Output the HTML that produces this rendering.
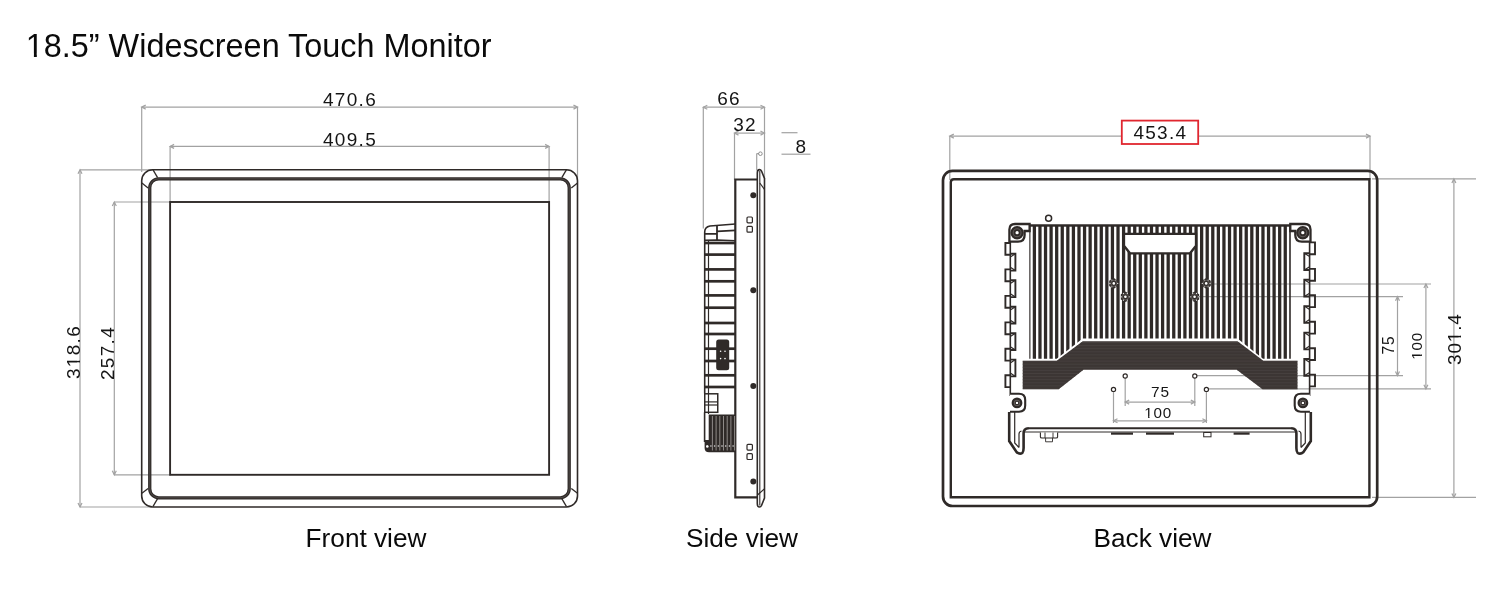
<!DOCTYPE html>
<html><head><meta charset="utf-8"><title>18.5" Widescreen Touch Monitor</title>
<style>
html,body{margin:0;padding:0;background:#fff;width:1500px;height:600px;overflow:hidden;}
svg{position:absolute;left:0;top:0;display:block;will-change:transform;}
text{font-family:"Liberation Sans",sans-serif;}
</style></head>
<body>
<svg width="1500" height="600" viewBox="0 0 1500 600">
<rect width="1500" height="600" fill="#fff"/>
<g fill="none" stroke="#a2a2a2" stroke-width="1.2">
<line x1="141.7" y1="107.1" x2="577.5" y2="107.1"/>
<path d="M145.7,105.1 L141.7,107.1 L145.7,109.1" />
<path d="M573.5,105.1 L577.5,107.1 L573.5,109.1" />
<line x1="141.7" y1="107.1" x2="141.7" y2="172"/>
<line x1="577.5" y1="107.1" x2="577.5" y2="180"/>
<line x1="170.1" y1="146.4" x2="549.1" y2="146.4"/>
<path d="M174.1,144.4 L170.1,146.4 L174.1,148.4" />
<path d="M545.1,144.4 L549.1,146.4 L545.1,148.4" />
<line x1="170.1" y1="146.4" x2="170.1" y2="203"/>
<line x1="549.1" y1="146.4" x2="549.1" y2="203"/>
<line x1="80" y1="169.8" x2="80" y2="507"/>
<path d="M78,173.8 L80,169.8 L82,173.8" />
<path d="M78,503 L80,507 L82,503" />
<line x1="80" y1="169.8" x2="152" y2="169.8"/>
<line x1="80" y1="507" x2="152" y2="507"/>
<line x1="114.3" y1="202" x2="114.3" y2="474.8"/>
<path d="M112.3,206 L114.3,202 L116.3,206" />
<path d="M112.3,470.8 L114.3,474.8 L116.3,470.8" />
<line x1="114.3" y1="202" x2="171" y2="202"/>
<line x1="114.3" y1="474.8" x2="171" y2="474.8"/>
<line x1="703.3" y1="107.2" x2="764.5" y2="107.2"/>
<path d="M707.3,105.2 L703.3,107.2 L707.3,109.2" />
<path d="M760.5,105.2 L764.5,107.2 L760.5,109.2" />
<line x1="703.3" y1="107.2" x2="703.3" y2="228.5"/>
<line x1="764.5" y1="107.3" x2="764.5" y2="179"/>
<line x1="734.5" y1="133.1" x2="764.5" y2="133.1"/>
<path d="M738.5,131.1 L734.5,133.1 L738.5,135.1" />
<path d="M760.5,131.1 L764.5,133.1 L760.5,135.1" />
<line x1="734.5" y1="133.2" x2="734.5" y2="180"/>
<line x1="781.5" y1="132.7" x2="797.5" y2="132.7"/>
<line x1="781.5" y1="154.2" x2="810.5" y2="154.2"/>
<line x1="756.7" y1="153.6" x2="756.7" y2="170.5"/>
<line x1="756.7" y1="153.6" x2="759" y2="153.6"/>
<circle cx="760.4" cy="153.7" r="1.8" stroke="#8c8c8c" stroke-width="1"/>
<line x1="949.8" y1="136.1" x2="1370" y2="136.1"/>
<path d="M953.8,134.1 L949.8,136.1 L953.8,138.1" />
<path d="M1366,134.1 L1370,136.1 L1366,138.1" />
<line x1="949.8" y1="136.1" x2="949.8" y2="180"/>
<line x1="1370" y1="136.1" x2="1370" y2="180"/>
<line x1="1453.9" y1="178.9" x2="1453.9" y2="497.4"/>
<path d="M1451.9,182.9 L1453.9,178.9 L1455.9,182.9" />
<path d="M1451.9,493.4 L1453.9,497.4 L1455.9,493.4" />
<line x1="1372" y1="178.9" x2="1476" y2="178.9"/>
<line x1="1372" y1="497.4" x2="1476" y2="497.4"/>
<line x1="1425.9" y1="284.0" x2="1425.9" y2="388.8"/>
<path d="M1423.9,288.0 L1425.9,284.0 L1427.9,288.0" />
<path d="M1423.9,384.8 L1425.9,388.8 L1427.9,384.8" />
<line x1="1209" y1="284.0" x2="1431" y2="284.0"/>
<line x1="1209" y1="388.8" x2="1431" y2="388.8"/>
<line x1="1397.5" y1="296.7" x2="1397.5" y2="375.6"/>
<path d="M1395.5,300.7 L1397.5,296.7 L1399.5,300.7" />
<path d="M1395.5,371.6 L1397.5,375.6 L1399.5,371.6" />
<line x1="1197" y1="296.7" x2="1403" y2="296.7"/>
<line x1="1197" y1="375.6" x2="1403" y2="375.6"/>
<line x1="1125.2" y1="402.1" x2="1194.8" y2="402.1"/>
<path d="M1129.2,400.1 L1125.2,402.1 L1129.2,404.1" />
<path d="M1190.8,400.1 L1194.8,402.1 L1190.8,404.1" />
<line x1="1125.2" y1="378" x2="1125.2" y2="406"/>
<line x1="1194.8" y1="378" x2="1194.8" y2="406"/>
<line x1="1113.5" y1="420.8" x2="1206.4" y2="420.8"/>
<path d="M1117.5,418.8 L1113.5,420.8 L1117.5,422.8" />
<path d="M1202.4,418.8 L1206.4,420.8 L1202.4,422.8" />
<line x1="1113.5" y1="391" x2="1113.5" y2="423"/>
<line x1="1206.4" y1="391" x2="1206.4" y2="423"/>
</g>
<g fill="none" stroke="#2f2a28">
<rect x="141.7" y="169.8" width="435.8" height="337.2" rx="11" stroke-width="1.6"/>
<rect x="149.75" y="178.8" width="419.45" height="319" rx="9" stroke-width="3.3"/>
<rect x="149.75" y="178.8" width="419.45" height="319" rx="9" stroke-width="0.7" stroke="#5d5755"/>
<rect x="170.1" y="202" width="379" height="272.8" stroke-width="1.9"/>
<line x1="152.9" y1="169.7" x2="157.6" y2="177.6" stroke-width="1.3"/>
<line x1="141.9" y1="183.1" x2="148.1" y2="187.9" stroke-width="1.3"/>
<line x1="566.5" y1="169.7" x2="561.8" y2="177.6" stroke-width="1.3"/>
<line x1="577.5" y1="183.1" x2="571.3" y2="187.9" stroke-width="1.3"/>
<line x1="152.9" y1="506.6" x2="157.6" y2="498.7" stroke-width="1.3"/>
<line x1="141.9" y1="493.2" x2="148.1" y2="488.4" stroke-width="1.3"/>
<line x1="566.5" y1="506.6" x2="561.8" y2="498.7" stroke-width="1.3"/>
<line x1="577.5" y1="493.2" x2="571.3" y2="488.4" stroke-width="1.3"/>
</g>
<g fill="none" stroke="#2f2a28" stroke-width="1.5">
<path d="M757.3,500 L757.3,173 Q757.3,169.6 759.5,169.6 Q760.8,169.6 761.5,171 L764.5,178.5 L764.5,498 L761.5,505.5 Q760.8,507 759.5,507 Q757.3,507 757.3,503.5 Z" stroke-width="1.6"/>
<line x1="759.8" y1="171" x2="759.8" y2="505.5" stroke-width="1.1"/>
<line x1="759.8" y1="183" x2="764.5" y2="189.5" stroke-width="1.2"/>
<line x1="764.3" y1="489" x2="757.5" y2="495" stroke-width="1.1"/>
<path d="M757,179.5 L735.3,179.5 L735.3,497.3 L757,497.3" stroke-width="2.2"/>
<circle cx="753.3" cy="195.3" r="3" fill="#2f2a28" stroke="none"/>
<circle cx="753.3" cy="290.3" r="3" fill="#2f2a28" stroke="none"/>
<circle cx="753.3" cy="386" r="3" fill="#2f2a28" stroke="none"/>
<circle cx="753.3" cy="481.5" r="3" fill="#2f2a28" stroke="none"/>
<rect x="747" y="217" width="5.4" height="5.8" rx="1" stroke-width="1.2"/>
<rect x="747" y="226.4" width="5.4" height="5.8" rx="1" stroke-width="1.2"/>
<rect x="747" y="444.3" width="5.4" height="5.8" rx="1" stroke-width="1.2"/>
<rect x="747" y="453.7" width="5.4" height="5.8" rx="1" stroke-width="1.2"/>
<path d="M735.3,224 L710,226 Q704.7,227 704.7,232 L704.7,393.5" stroke-width="1.6"/>
<line x1="708.5" y1="240" x2="708.5" y2="414" stroke-width="1.2"/>
<path d="M717,225.8 L717,240.5 M704.5,233.8 L717,233.8 M717,231.3 L735.3,230.4" stroke-width="1.8"/>
<path d="M704.5,240.2 L717,240 L735.3,240.8" stroke-width="1.6"/>
<line x1="704.7" y1="243" x2="735.3" y2="243" stroke-width="2.7"/>
<line x1="704.7" y1="254.6" x2="735.3" y2="254.6" stroke-width="2.7"/>
<line x1="704.7" y1="269.4" x2="735.3" y2="269.4" stroke-width="2.7"/>
<line x1="704.7" y1="281.3" x2="735.3" y2="281.3" stroke-width="2.7"/>
<line x1="704.7" y1="295.4" x2="735.3" y2="295.4" stroke-width="2.7"/>
<line x1="704.7" y1="307.7" x2="735.3" y2="307.7" stroke-width="2.7"/>
<line x1="704.7" y1="323" x2="735.3" y2="323" stroke-width="2.7"/>
<line x1="704.7" y1="334" x2="735.3" y2="334" stroke-width="2.7"/>
<line x1="704.7" y1="348.7" x2="735.3" y2="348.7" stroke-width="2.7"/>
<line x1="704.7" y1="361" x2="735.3" y2="361" stroke-width="2.7"/>
<line x1="704.7" y1="375.3" x2="735.3" y2="375.3" stroke-width="2.7"/>
<line x1="704.7" y1="387" x2="735.3" y2="387" stroke-width="2.7"/>
<rect x="716.2" y="339.4" width="13" height="30.8" rx="2.5" fill="#2f2a28" stroke="none"/>
<circle cx="720.6" cy="351.3" r="0.8" fill="#fff" stroke="none"/>
<circle cx="725" cy="351.3" r="0.8" fill="#fff" stroke="none"/>
<circle cx="720.6" cy="358.6" r="0.8" fill="#fff" stroke="none"/>
<circle cx="725" cy="358.6" r="0.8" fill="#fff" stroke="none"/>
<rect x="704.75" y="393.8" width="13" height="18.5" stroke-width="1.5"/>
<line x1="704.75" y1="401.9" x2="717.75" y2="401.9" stroke-width="1.2"/>
<line x1="704.75" y1="405" x2="717.75" y2="405" stroke-width="1.2"/>
<path d="M708.7,414.6 L735.3,414.6 L735.3,452.2 L709,452.2 Q704.6,452.2 704.6,448 L704.6,440 L708.7,440 Z" fill="#2f2a28" stroke="none"/>
<line x1="712.40" y1="416" x2="712.40" y2="450.5" stroke="#9a9593" stroke-width="0.9"/>
<line x1="716.10" y1="416" x2="716.10" y2="450.5" stroke="#9a9593" stroke-width="0.9"/>
<line x1="719.80" y1="416" x2="719.80" y2="450.5" stroke="#9a9593" stroke-width="0.9"/>
<line x1="723.50" y1="416" x2="723.50" y2="450.5" stroke="#9a9593" stroke-width="0.9"/>
<line x1="727.20" y1="416" x2="727.20" y2="450.5" stroke="#9a9593" stroke-width="0.9"/>
<line x1="730.90" y1="416" x2="730.90" y2="450.5" stroke="#9a9593" stroke-width="0.9"/>
<line x1="734.60" y1="416" x2="734.60" y2="450.5" stroke="#9a9593" stroke-width="0.9"/>
<circle cx="707.20" cy="446" r="0.8" fill="#ddd" stroke="none"/>
<circle cx="710.90" cy="446" r="0.8" fill="#ddd" stroke="none"/>
<circle cx="714.60" cy="446" r="0.8" fill="#ddd" stroke="none"/>
<circle cx="718.30" cy="446" r="0.8" fill="#ddd" stroke="none"/>
<circle cx="722.00" cy="446" r="0.8" fill="#ddd" stroke="none"/>
<circle cx="725.70" cy="446" r="0.8" fill="#ddd" stroke="none"/>
<circle cx="729.40" cy="446" r="0.8" fill="#ddd" stroke="none"/>
<circle cx="733.10" cy="446" r="0.8" fill="#ddd" stroke="none"/>
<circle cx="707.3" cy="446.5" r="1.3" fill="#fff" stroke="none"/>
<line x1="704.6" y1="412.3" x2="704.6" y2="442" stroke-width="1.6"/>
</g>
<g fill="none" stroke="#2f2a28">
<rect x="943" y="170.8" width="434.2" height="335.2" rx="9.5" stroke-width="2.7"/>
<path d="M950.8,497.3 L950.8,182.3 Q950.8,179.2 953.9,179.2 L1369.4,179.2 L1369.4,497.3 Z" stroke-width="2.4"/>
<circle cx="1048.6" cy="218.3" r="3" stroke-width="1.5"/>
</g>
<defs><clipPath id="finclip"><path d="M1029.3,225 L1290.8,225 L1290.8,358.8 L1263,358.8 L1237.5,338.6 L1082.7,338.6 L1056.7,358.8 L1029.3,358.8 Z"/></clipPath>
<clipPath id="bandclip"><path d="M1022.7,360.7 L1056.7,360.7 L1082.7,341.2 L1237.5,341.2 L1263.3,360.7 L1297.5,360.7 L1297.5,389.3 L1262.5,389.3 L1236.7,369.8 L1083.5,369.8 L1058.7,389.3 L1022.7,389.3 Z"/></clipPath></defs>
<g clip-path="url(#finclip)" fill="#2f2a28">
<rect x="1027.17" y="224" width="3.27" height="140"/>
<rect x="1032.75" y="224" width="3.27" height="140"/>
<rect x="1038.33" y="224" width="3.27" height="140"/>
<rect x="1043.90" y="224" width="3.27" height="140"/>
<rect x="1049.47" y="224" width="3.27" height="140"/>
<rect x="1055.05" y="224" width="3.27" height="140"/>
<rect x="1060.62" y="224" width="3.27" height="140"/>
<rect x="1066.20" y="224" width="3.27" height="140"/>
<rect x="1071.78" y="224" width="3.27" height="140"/>
<rect x="1077.35" y="224" width="3.27" height="140"/>
<rect x="1082.92" y="224" width="3.27" height="140"/>
<rect x="1088.50" y="224" width="3.27" height="140"/>
<rect x="1094.08" y="224" width="3.27" height="140"/>
<rect x="1099.65" y="224" width="3.27" height="140"/>
<rect x="1105.22" y="224" width="3.27" height="140"/>
<rect x="1110.80" y="224" width="3.27" height="140"/>
<rect x="1116.38" y="224" width="3.27" height="140"/>
<rect x="1121.95" y="224" width="3.27" height="140"/>
<rect x="1127.53" y="224" width="3.27" height="140"/>
<rect x="1133.10" y="224" width="3.27" height="140"/>
<rect x="1138.67" y="224" width="3.27" height="140"/>
<rect x="1144.25" y="224" width="3.27" height="140"/>
<rect x="1149.83" y="224" width="3.27" height="140"/>
<rect x="1155.40" y="224" width="3.27" height="140"/>
<rect x="1160.97" y="224" width="3.27" height="140"/>
<rect x="1166.55" y="224" width="3.27" height="140"/>
<rect x="1172.12" y="224" width="3.27" height="140"/>
<rect x="1177.70" y="224" width="3.27" height="140"/>
<rect x="1183.28" y="224" width="3.27" height="140"/>
<rect x="1188.85" y="224" width="3.27" height="140"/>
<rect x="1194.42" y="224" width="3.27" height="140"/>
<rect x="1200.00" y="224" width="3.27" height="140"/>
<rect x="1205.58" y="224" width="3.27" height="140"/>
<rect x="1211.15" y="224" width="3.27" height="140"/>
<rect x="1216.72" y="224" width="3.27" height="140"/>
<rect x="1222.30" y="224" width="3.27" height="140"/>
<rect x="1227.88" y="224" width="3.27" height="140"/>
<rect x="1233.45" y="224" width="3.27" height="140"/>
<rect x="1239.03" y="224" width="3.27" height="140"/>
<rect x="1244.60" y="224" width="3.27" height="140"/>
<rect x="1250.17" y="224" width="3.27" height="140"/>
<rect x="1255.75" y="224" width="3.27" height="140"/>
<rect x="1261.33" y="224" width="3.27" height="140"/>
<rect x="1266.90" y="224" width="3.27" height="140"/>
<rect x="1272.47" y="224" width="3.27" height="140"/>
<rect x="1278.05" y="224" width="3.27" height="140"/>
<rect x="1283.62" y="224" width="3.27" height="140"/>
<rect x="1289.20" y="224" width="3.27" height="140"/>
<rect x="1029.3" y="224" width="261.5" height="2.6"/>
</g>
<line x1="1012" y1="225.2" x2="1308" y2="225.2" stroke="#2f2a28" stroke-width="2"/>
<g clip-path="url(#bandclip)"><rect x="1020" y="338" width="280" height="55" fill="#3c3634"/>
<line x1="1020" y1="342.5" x2="1300" y2="342.5" stroke="#4b4543" stroke-width="0.7"/>
<line x1="1020" y1="345.6" x2="1300" y2="345.6" stroke="#4b4543" stroke-width="0.7"/>
<line x1="1020" y1="348.7" x2="1300" y2="348.7" stroke="#4b4543" stroke-width="0.7"/>
<line x1="1020" y1="351.8" x2="1300" y2="351.8" stroke="#4b4543" stroke-width="0.7"/>
<line x1="1020" y1="354.9" x2="1300" y2="354.9" stroke="#4b4543" stroke-width="0.7"/>
<line x1="1020" y1="358.0" x2="1300" y2="358.0" stroke="#4b4543" stroke-width="0.7"/>
<line x1="1020" y1="361.1" x2="1300" y2="361.1" stroke="#4b4543" stroke-width="0.7"/>
<line x1="1020" y1="364.2" x2="1300" y2="364.2" stroke="#4b4543" stroke-width="0.7"/>
<line x1="1020" y1="367.3" x2="1300" y2="367.3" stroke="#4b4543" stroke-width="0.7"/>
<line x1="1020" y1="370.4" x2="1300" y2="370.4" stroke="#4b4543" stroke-width="0.7"/>
<line x1="1020" y1="373.5" x2="1300" y2="373.5" stroke="#4b4543" stroke-width="0.7"/>
<line x1="1020" y1="376.6" x2="1300" y2="376.6" stroke="#4b4543" stroke-width="0.7"/>
<line x1="1020" y1="379.7" x2="1300" y2="379.7" stroke="#4b4543" stroke-width="0.7"/>
<line x1="1020" y1="382.8" x2="1300" y2="382.8" stroke="#4b4543" stroke-width="0.7"/>
<line x1="1020" y1="385.9" x2="1300" y2="385.9" stroke="#4b4543" stroke-width="0.7"/>
<line x1="1020" y1="389.0" x2="1300" y2="389.0" stroke="#4b4543" stroke-width="0.7"/>
</g>
<path d="M1124,233.8 L1196,233.8 L1196,245.8 L1190,253.3 L1130,253.3 L1124,245.8 Z" fill="#fff" stroke="#2f2a28" stroke-width="2.3"/>
<polygon points="1118.39,286.05 1113.80,288.70 1109.21,286.05 1109.21,280.75 1113.80,278.10 1118.39,280.75" fill="#332e2c"/>
<circle cx="1113.8" cy="283.4" r="3.1" fill="none" stroke="#77716f" stroke-width="0.6"/>
<circle cx="1117.70" cy="283.40" r="0.6" fill="#e8e8e8"/>
<circle cx="1115.75" cy="286.78" r="0.6" fill="#e8e8e8"/>
<circle cx="1111.85" cy="286.78" r="0.6" fill="#e8e8e8"/>
<circle cx="1109.90" cy="283.40" r="0.6" fill="#e8e8e8"/>
<circle cx="1111.85" cy="280.02" r="0.6" fill="#e8e8e8"/>
<circle cx="1115.75" cy="280.02" r="0.6" fill="#e8e8e8"/>
<circle cx="1113.8" cy="283.4" r="1.3" fill="#fff"/>
<polygon points="1129.99,299.45 1125.40,302.10 1120.81,299.45 1120.81,294.15 1125.40,291.50 1129.99,294.15" fill="#332e2c"/>
<circle cx="1125.4" cy="296.8" r="3.1" fill="none" stroke="#77716f" stroke-width="0.6"/>
<circle cx="1129.30" cy="296.80" r="0.6" fill="#e8e8e8"/>
<circle cx="1127.35" cy="300.18" r="0.6" fill="#e8e8e8"/>
<circle cx="1123.45" cy="300.18" r="0.6" fill="#e8e8e8"/>
<circle cx="1121.50" cy="296.80" r="0.6" fill="#e8e8e8"/>
<circle cx="1123.45" cy="293.42" r="0.6" fill="#e8e8e8"/>
<circle cx="1127.35" cy="293.42" r="0.6" fill="#e8e8e8"/>
<circle cx="1125.4" cy="296.8" r="1.3" fill="#fff"/>
<polygon points="1199.19,299.45 1194.60,302.10 1190.01,299.45 1190.01,294.15 1194.60,291.50 1199.19,294.15" fill="#332e2c"/>
<circle cx="1194.6" cy="296.8" r="3.1" fill="none" stroke="#77716f" stroke-width="0.6"/>
<circle cx="1198.50" cy="296.80" r="0.6" fill="#e8e8e8"/>
<circle cx="1196.55" cy="300.18" r="0.6" fill="#e8e8e8"/>
<circle cx="1192.65" cy="300.18" r="0.6" fill="#e8e8e8"/>
<circle cx="1190.70" cy="296.80" r="0.6" fill="#e8e8e8"/>
<circle cx="1192.65" cy="293.42" r="0.6" fill="#e8e8e8"/>
<circle cx="1196.55" cy="293.42" r="0.6" fill="#e8e8e8"/>
<circle cx="1194.6" cy="296.8" r="1.3" fill="#fff"/>
<polygon points="1210.79,286.05 1206.20,288.70 1201.61,286.05 1201.61,280.75 1206.20,278.10 1210.79,280.75" fill="#332e2c"/>
<circle cx="1206.2" cy="283.4" r="3.1" fill="none" stroke="#77716f" stroke-width="0.6"/>
<circle cx="1210.10" cy="283.40" r="0.6" fill="#e8e8e8"/>
<circle cx="1208.15" cy="286.78" r="0.6" fill="#e8e8e8"/>
<circle cx="1204.25" cy="286.78" r="0.6" fill="#e8e8e8"/>
<circle cx="1202.30" cy="283.40" r="0.6" fill="#e8e8e8"/>
<circle cx="1204.25" cy="280.02" r="0.6" fill="#e8e8e8"/>
<circle cx="1208.15" cy="280.02" r="0.6" fill="#e8e8e8"/>
<circle cx="1206.2" cy="283.4" r="1.3" fill="#fff"/>
<circle cx="1125.2" cy="376" r="2.1" fill="#fff" stroke="#2f2a28" stroke-width="1.2"/>
<circle cx="1194.8" cy="376" r="2.1" fill="#fff" stroke="#2f2a28" stroke-width="1.2"/>
<circle cx="1113.5" cy="389.4" r="2.1" fill="#fff" stroke="#2f2a28" stroke-width="1.2"/>
<circle cx="1206.4" cy="389.4" r="2.1" fill="#fff" stroke="#2f2a28" stroke-width="1.2"/>
<line x1="1010.3" y1="240" x2="1010.3" y2="396" stroke="#2f2a28" stroke-width="1.6"/>
<path d="M1010.3,243.0 L1005.4,243.0 L1005.4,254.8 L1010.3,254.8" fill="none" stroke="#2f2a28" stroke-width="1.9"/>
<path d="M1010.3,253.8 L1015.4,253.8 L1015.4,270.6 L1010.3,270.6" fill="none" stroke="#2f2a28" stroke-width="1.9"/>
<path d="M1010.3,257.1 L1015.4,253.8 M1010.3,267.3 L1015.4,270.6" stroke="#2f2a28" stroke-width="1.2"/>
<path d="M1010.3,269.4 L1005.4,269.4 L1005.4,281.2 L1010.3,281.2" fill="none" stroke="#2f2a28" stroke-width="1.9"/>
<path d="M1010.3,280.2 L1015.4,280.2 L1015.4,297.1 L1010.3,297.1" fill="none" stroke="#2f2a28" stroke-width="1.9"/>
<path d="M1010.3,283.6 L1015.4,280.2 M1010.3,293.8 L1015.4,297.1" stroke="#2f2a28" stroke-width="1.2"/>
<path d="M1010.3,295.9 L1005.4,295.9 L1005.4,307.7 L1010.3,307.7" fill="none" stroke="#2f2a28" stroke-width="1.9"/>
<path d="M1010.3,306.7 L1015.4,306.7 L1015.4,323.5 L1010.3,323.5" fill="none" stroke="#2f2a28" stroke-width="1.9"/>
<path d="M1010.3,310.0 L1015.4,306.7 M1010.3,320.2 L1015.4,323.5" stroke="#2f2a28" stroke-width="1.2"/>
<path d="M1010.3,322.4 L1005.4,322.4 L1005.4,334.2 L1010.3,334.2" fill="none" stroke="#2f2a28" stroke-width="1.9"/>
<path d="M1010.3,333.2 L1015.4,333.2 L1015.4,350.0 L1010.3,350.0" fill="none" stroke="#2f2a28" stroke-width="1.9"/>
<path d="M1010.3,336.5 L1015.4,333.2 M1010.3,346.7 L1015.4,350.0" stroke="#2f2a28" stroke-width="1.2"/>
<path d="M1010.3,348.8 L1005.4,348.8 L1005.4,360.6 L1010.3,360.6" fill="none" stroke="#2f2a28" stroke-width="1.9"/>
<path d="M1010.3,359.6 L1015.4,359.6 L1015.4,376.4 L1010.3,376.4" fill="none" stroke="#2f2a28" stroke-width="1.9"/>
<path d="M1010.3,362.9 L1015.4,359.6 M1010.3,373.1 L1015.4,376.4" stroke="#2f2a28" stroke-width="1.2"/>
<path d="M1010.3,375.2 L1005.4,375.2 L1005.4,387.1 L1010.3,387.1" fill="none" stroke="#2f2a28" stroke-width="1.9"/>
<line x1="1309.6" y1="240" x2="1309.6" y2="396" stroke="#2f2a28" stroke-width="1.6"/>
<path d="M1309.6,242.4 L1315.0,242.4 L1315.0,254.2 L1309.6,254.2" fill="none" stroke="#2f2a28" stroke-width="1.9"/>
<path d="M1309.6,253.2 L1304.3,253.2 L1304.3,270.0 L1309.6,270.0" fill="none" stroke="#2f2a28" stroke-width="1.9"/>
<path d="M1309.6,256.5 L1304.3,253.2 M1309.6,266.7 L1304.3,270.0" stroke="#2f2a28" stroke-width="1.2"/>
<path d="M1309.6,268.9 L1315.0,268.9 L1315.0,280.7 L1309.6,280.7" fill="none" stroke="#2f2a28" stroke-width="1.9"/>
<path d="M1309.6,279.7 L1304.3,279.7 L1304.3,296.5 L1309.6,296.5" fill="none" stroke="#2f2a28" stroke-width="1.9"/>
<path d="M1309.6,283.0 L1304.3,279.7 M1309.6,293.2 L1304.3,296.5" stroke="#2f2a28" stroke-width="1.2"/>
<path d="M1309.6,295.3 L1315.0,295.3 L1315.0,307.1 L1309.6,307.1" fill="none" stroke="#2f2a28" stroke-width="1.9"/>
<path d="M1309.6,306.1 L1304.3,306.1 L1304.3,322.9 L1309.6,322.9" fill="none" stroke="#2f2a28" stroke-width="1.9"/>
<path d="M1309.6,309.4 L1304.3,306.1 M1309.6,319.6 L1304.3,322.9" stroke="#2f2a28" stroke-width="1.2"/>
<path d="M1309.6,321.8 L1315.0,321.8 L1315.0,333.6 L1309.6,333.6" fill="none" stroke="#2f2a28" stroke-width="1.9"/>
<path d="M1309.6,332.6 L1304.3,332.6 L1304.3,349.4 L1309.6,349.4" fill="none" stroke="#2f2a28" stroke-width="1.9"/>
<path d="M1309.6,335.9 L1304.3,332.6 M1309.6,346.1 L1304.3,349.4" stroke="#2f2a28" stroke-width="1.2"/>
<path d="M1309.6,348.2 L1315.0,348.2 L1315.0,360.0 L1309.6,360.0" fill="none" stroke="#2f2a28" stroke-width="1.9"/>
<path d="M1309.6,359.0 L1304.3,359.0 L1304.3,375.8 L1309.6,375.8" fill="none" stroke="#2f2a28" stroke-width="1.9"/>
<path d="M1309.6,362.3 L1304.3,359.0 M1309.6,372.5 L1304.3,375.8" stroke="#2f2a28" stroke-width="1.2"/>
<path d="M1309.6,374.6 L1315.0,374.6 L1315.0,386.4 L1309.6,386.4" fill="none" stroke="#2f2a28" stroke-width="1.9"/>
<path d="M1009.4,241.7 L1009.4,229.5 Q1009.4,224 1015,224 L1029.6,224 L1029.6,231 L1024.6,231 L1024.6,235 Q1024.6,241.7 1018,241.7 Z" fill="#fff" stroke="#2f2a28" stroke-width="2.3"/>
<circle cx="1017.1" cy="232.7" r="5.6" fill="#5a5452" stroke="#2f2a28" stroke-width="2.2"/>
<circle cx="1017.1" cy="232.7" r="2.5" fill="#fff" stroke="#2f2a28" stroke-width="1.7"/>
<path d="M1310.5,241.7 L1310.5,229.5 Q1310.5,224 1304.9,224 L1290.3000000000002,224 L1290.3000000000002,231 L1295.3000000000002,231 L1295.3000000000002,235 Q1295.3000000000002,241.7 1301.9,241.7 Z" fill="#fff" stroke="#2f2a28" stroke-width="2.3"/>
<circle cx="1302.8000000000002" cy="232.7" r="5.6" fill="#5a5452" stroke="#2f2a28" stroke-width="2.2"/>
<circle cx="1302.8000000000002" cy="232.7" r="2.5" fill="#fff" stroke="#2f2a28" stroke-width="1.7"/>
<path d="M1010,393.8 L1019,393.8 Q1025.2,393.8 1025.2,400 L1025.2,405.6 Q1025.2,411.8 1019,411.8 L1010,411.8" fill="#fff" stroke="#2f2a28" stroke-width="2.1"/>
<circle cx="1017.0" cy="402.9" r="4.3" fill="#5f5957" stroke="#2f2a28" stroke-width="2.2"/>
<circle cx="1017.0" cy="402.9" r="2.2" fill="#2f2a28"/>
<circle cx="1017.0" cy="402.9" r="1.2" fill="#fff"/>
<path d="M1309.9,393.8 L1300.9,393.8 Q1294.7,393.8 1294.7,400 L1294.7,405.6 Q1294.7,411.8 1300.9,411.8 L1309.9,411.8" fill="#fff" stroke="#2f2a28" stroke-width="2.1"/>
<circle cx="1302.9" cy="402.9" r="4.3" fill="#5f5957" stroke="#2f2a28" stroke-width="2.2"/>
<circle cx="1302.9" cy="402.9" r="2.2" fill="#2f2a28"/>
<circle cx="1302.9" cy="402.9" r="1.2" fill="#fff"/>
<path d="M1009.2,412 L1009.2,441 L1016.5,452 Q1019.5,454.8 1022.3,453 Q1023.6,451.5 1023.6,448 L1023.6,433.5 Q1023.6,428.3 1028.5,428.3" fill="none" stroke="#2f2a28" stroke-width="2.6"/>
<path d="M1310.8,412 L1310.8,441 L1303.5,452 Q1300.5,454.8 1297.7,453 Q1296.4,451.5 1296.4,448 L1296.4,433.5 Q1296.4,428.3 1291.5,428.3" fill="none" stroke="#2f2a28" stroke-width="2.6"/>
<line x1="1028" y1="428.3" x2="1292" y2="428.3" stroke="#2f2a28" stroke-width="1.9"/>
<path d="M1014.7,412 L1014.7,443 L1019,447.5 M1019,447.5 L1019,434 Q1019,431.5 1021.5,431" fill="none" stroke="#2f2a28" stroke-width="1.2"/>
<path d="M1305.3,412 L1305.3,443 L1301,447.5 M1301,447.5 L1301,434 Q1301,431.5 1298.5,431" fill="none" stroke="#2f2a28" stroke-width="1.2"/>
<line x1="1025" y1="432" x2="1295" y2="432" stroke="#2f2a28" stroke-width="1"/>
<path d="M1040.4,432.5 L1040.4,437 Q1040.4,438 1042,438 L1056,438 Q1057.6,438 1057.6,437 L1057.6,432.5" fill="#fff" stroke="#2f2a28" stroke-width="1.1"/>
<path d="M1045.6,438 L1045.6,441.8 L1052.5,441.8 L1052.5,438 M1045,432.5 L1045,438 M1053,432.5 L1053,438" fill="none" stroke="#2f2a28" stroke-width="0.9"/>
<rect x="1111" y="432.5" width="22" height="2.2" fill="#2f2a28"/>
<rect x="1146" y="432.5" width="28" height="2.2" fill="#2f2a28"/>
<rect x="1233.6" y="432.5" width="16.0" height="2.2" fill="#2f2a28"/>
<rect x="1203.7" y="432.5" width="7.3" height="4.3" fill="#fff" stroke="#2f2a28" stroke-width="1"/>
<rect x="1121.8" y="120.6" width="76.4" height="23.4" fill="#fff" stroke="#e0262f" stroke-width="1.8"/>
<defs><mask id="mt1" maskUnits="userSpaceOnUse" x="-2000" y="-2000" width="6000" height="6000"><rect x="-2000" y="-2000" width="6000" height="6000" fill="#fff"/><rect x="25.15" y="53.67" width="8.75" height="5.67" fill="#000"/><rect x="36.82" y="53.67" width="7.61" height="5.67" fill="#000"/></mask><mask id="mt2" maskUnits="userSpaceOnUse" x="-2000" y="-2000" width="6000" height="6000"><rect x="-2000" y="-2000" width="6000" height="6000" fill="#fff"/><rect x="63.96" y="349.81" width="5.13" height="3.33" fill="#000"/><rect x="70.80" y="349.81" width="4.46" height="3.33" fill="#000"/></mask><mask id="mt3" maskUnits="userSpaceOnUse" x="-2000" y="-2000" width="6000" height="6000"><rect x="-2000" y="-2000" width="6000" height="6000" fill="#fff"/><rect x="1457.37" y="336.92" width="5.13" height="3.33" fill="#000"/><rect x="1464.21" y="336.92" width="4.46" height="3.33" fill="#000"/></mask><mask id="mt4" maskUnits="userSpaceOnUse" x="-2000" y="-2000" width="6000" height="6000"><rect x="-2000" y="-2000" width="6000" height="6000" fill="#fff"/><rect x="1144.02" y="416.35" width="4.10" height="2.66" fill="#000"/><rect x="1149.49" y="416.35" width="3.57" height="2.66" fill="#000"/></mask><mask id="mt5" maskUnits="userSpaceOnUse" x="-2000" y="-2000" width="6000" height="6000"><rect x="-2000" y="-2000" width="6000" height="6000" fill="#fff"/><rect x="1407.82" y="344.05" width="4.10" height="2.66" fill="#000"/><rect x="1413.29" y="344.05" width="3.57" height="2.66" fill="#000"/></mask></defs>
<text x="25.8" y="57.4" font-size="32.4" text-anchor="start" letter-spacing="0" fill="#0a0a0a" id="t1" mask="url(#mt1)">18.5” Widescreen Touch Monitor</text>
<text x="366" y="546.8" font-size="26.2" text-anchor="middle" letter-spacing="0" fill="#0a0a0a">Front view</text>
<text x="742" y="546.8" font-size="26.2" text-anchor="middle" letter-spacing="0" fill="#0a0a0a">Side view</text>
<text x="1152.5" y="546.8" font-size="26.2" text-anchor="middle" letter-spacing="0" fill="#0a0a0a">Back view</text>
<text x="350" y="106" font-size="19" text-anchor="middle" letter-spacing="1.3" fill="#151515">470.6</text>
<text x="350" y="145.6" font-size="19" text-anchor="middle" letter-spacing="1.3" fill="#151515">409.5</text>
<text x="79.5" y="352" font-size="19" text-anchor="middle" letter-spacing="1.3" fill="#151515" transform="rotate(-90 79.5 352)" id="t2" mask="url(#mt2)">318.6</text>
<text x="113.8" y="353" font-size="19" text-anchor="middle" letter-spacing="1.3" fill="#151515" transform="rotate(-90 113.8 353)">257.4</text>
<text x="729" y="105" font-size="19" text-anchor="middle" letter-spacing="1.3" fill="#151515">66</text>
<text x="745" y="130.6" font-size="19" text-anchor="middle" letter-spacing="1.3" fill="#151515">32</text>
<text x="801.5" y="152.8" font-size="19" text-anchor="middle" letter-spacing="1.3" fill="#151515">8</text>
<text x="1160.4" y="139" font-size="19" text-anchor="middle" letter-spacing="1.3" fill="#151515">453.4</text>
<text x="1460.8" y="339.1" font-size="19" text-anchor="middle" letter-spacing="0.8" fill="#151515" transform="rotate(-90 1460.8 339.1)" id="t3" mask="url(#mt3)">301.4</text>
<text x="1160.4" y="397.1" font-size="15.4" text-anchor="middle" letter-spacing="0.8" fill="#151515">75</text>
<text x="1158.2" y="418.1" font-size="15.2" text-anchor="middle" letter-spacing="0.8" fill="#151515" id="t4" mask="url(#mt4)">100</text>
<text x="1394.3" y="345" font-size="15.6" text-anchor="middle" letter-spacing="0.8" fill="#151515" transform="rotate(-90 1394.3 345)">75</text>
<text x="1422" y="345.8" font-size="15.2" text-anchor="middle" letter-spacing="0.8" fill="#151515" transform="rotate(-90 1422 345.8)" id="t5" mask="url(#mt5)">100</text>
</svg>
</body></html>
